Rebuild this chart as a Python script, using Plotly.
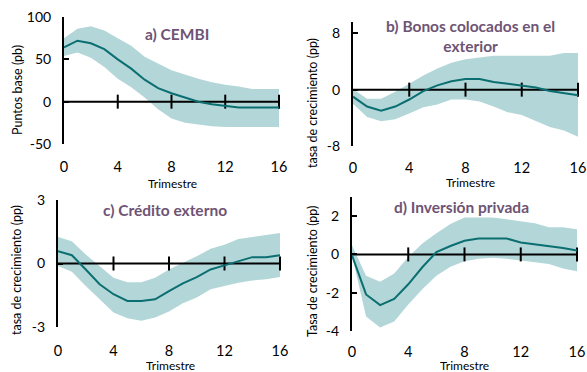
import plotly.graph_objects as go

W, H = 587, 372
trimestre = list(range(17))
x_ticks = [0, 4, 8, 12, 16]

# a) CEMBI
cembi_mid = [64, 72, 69, 62, 50, 39, 26, 16, 10, 5, 0, -3, -5, -7, -7, -7, -7]
cembi_up = [75, 86, 89, 84, 75, 66, 53, 45, 37, 32, 27, 23, 20, 18, 15, 15, 15]
cembi_lo = [54, 58, 52, 41, 27, 17, 5, -9, -20, -25, -27, -29, -30, -30, -30, -30, -30]

# b) Bonos colocados en el exterior
bonos_mid = [-1.0, -2.4, -3.0, -2.4, -1.4, -0.2, 0.6, 1.2, 1.5, 1.5, 1.1, 0.85, 0.6, 0.3, -0.2, -0.5, -0.8]
bonos_up = [0.1, -1.3, -1.3, -0.3, 0.85, 2.0, 3.0, 3.8, 4.3, 4.6, 4.8, 4.8, 4.8, 4.8, 4.8, 5.2, 5.2]
bonos_lo = [-2.0, -3.9, -4.5, -4.2, -3.4, -2.5, -2.1, -1.4, -1.4, -1.7, -2.4, -3.2, -3.6, -4.4, -5.3, -5.8, -6.7]

# c) Crédito externo
cred_mid = [0.58, 0.39, -0.28, -0.98, -1.45, -1.77, -1.77, -1.69, -1.3, -0.94, -0.64, -0.28, -0.09, 0.11, 0.3, 0.3, 0.39]
cred_up = [1.25, 1.05, 0.42, -0.12, -0.67, -0.88, -0.88, -0.67, -0.28, 0.03, 0.34, 0.7, 0.89, 1.16, 1.25, 1.36, 1.44]
cred_lo = [-0.12, -0.39, -1.06, -1.69, -2.31, -2.59, -2.7, -2.55, -2.27, -1.88, -1.61, -1.22, -1.06, -0.91, -0.8, -0.75, -0.64]

# d) Inversión privada
inv_mid = [-0.05, -2.09, -2.65, -2.32, -1.56, -0.67, 0.12, 0.44, 0.71, 0.83, 0.83, 0.83, 0.62, 0.53, 0.44, 0.34, 0.21]
inv_up = [0.48, -1.12, -1.43, -0.99, -0.14, 0.57, 1.1, 1.59, 1.93, 1.93, 1.93, 1.84, 1.75, 1.63, 1.42, 1.42, 1.31]
inv_lo = [-0.05, -3.24, -3.82, -3.5, -2.62, -1.82, -1.12, -0.64, -0.35, -0.23, -0.18, -0.23, -0.32, -0.41, -0.5, -0.73, -0.88]

LINE = "#0B6E70"
BAND = "#B3D7D9"
TITLE = "#6E5474"
FONT = "Lato"

panels = [
    dict(mid=cembi_mid, up=cembi_up, lo=cembi_lo, yr=[-50, 100], yt=[-50, 0, 50, 100],
         ytxt=["-50", "0", "50", "100"],
         px=(64, 279), py=(17, 144), xlab_y=166, title="a) CEMBI", tpos=(177, 34),
         ytitle="Puntos base (pb)", ytpos=(17, 90), xtpos=(172, 183)),
    dict(mid=bonos_mid, up=bonos_up, lo=bonos_lo, yr=[-8, 9.6], yt=[-8, 0, 8],
         ytxt=["-8", "0", "8"],
         px=(353, 578), py=(22, 146), xlab_y=167, title="b) Bonos colocados en el<br>exterior",
         tpos=(470, 36), ytitle="tasa de crecimiento (pp)", ytpos=(313, 103), xtpos=(470, 182)),
    dict(mid=cred_mid, up=cred_up, lo=cred_lo, yr=[-3, 3], yt=[-3, 0, 3],
         ytxt=["-3", "0", "3"],
         px=(58, 280), py=(200, 327), xlab_y=350, title="c) Crédito externo", tpos=(165, 210),
         ytitle="tasa de crecimiento (pp)", ytpos=(16, 270), xtpos=(170, 365)),
    dict(mid=inv_mid, up=inv_up, lo=inv_lo, yr=[-4, 3], yt=[-4, -2, 0, 2],
         ytxt=["-4", "-2", "0", "2"],
         px=(352, 577), py=(197, 331), xlab_y=351, title="d) Inversión privada", tpos=(461, 207),
         ytitle="Tasa de crecimiento (pp)", ytpos=(312, 272), xtpos=(465, 365)),
]

fig = go.Figure()
annotations = []
layout = {}
for i, p in enumerate(panels):
    n = "" if i == 0 else str(i + 1)
    xa, ya = "x" + n, "y" + n
    # band
    fig.add_trace(go.Scatter(x=trimestre, y=p["up"], mode="lines", line=dict(width=0, color=BAND),
                             xaxis=xa, yaxis=ya, showlegend=False, hoverinfo="skip"))
    fig.add_trace(go.Scatter(x=trimestre, y=p["lo"], mode="lines", line=dict(width=0, color=BAND),
                             fill="tonexty", fillcolor=BAND, xaxis=xa, yaxis=ya, showlegend=False,
                             hoverinfo="skip"))
    # horizontal axis at zero with tick marks
    fig.add_trace(go.Scatter(x=[x_ticks[0], x_ticks[-1]], y=[0, 0], mode="lines",
                             line=dict(width=2, color="black"), xaxis=xa, yaxis=ya,
                             showlegend=False, hoverinfo="skip", cliponaxis=False))
    fig.add_trace(go.Scatter(x=x_ticks[1:], y=[0] * 4, mode="markers",
                             marker=dict(symbol="line-ns", size=10, line=dict(width=2, color="black")),
                             xaxis=xa, yaxis=ya, showlegend=False, hoverinfo="skip", cliponaxis=False))
    # central line
    fig.add_trace(go.Scatter(x=trimestre, y=p["mid"], mode="lines", line=dict(width=2, color=LINE),
                             xaxis=xa, yaxis=ya, showlegend=False))
    x0, x1 = p["px"]
    y0, y1 = p["py"]
    ydom = [(H - y1) / H, (H - y0) / H]
    layout["xaxis" + n] = dict(
        domain=[x0 / W, x1 / W], range=[0, 16], tickvals=x_ticks, showgrid=False,
        zeroline=False, showline=False, ticks="", anchor="free", automargin=False,
        position=(H - (p["xlab_y"] - 10)) / H,
        tickfont=dict(family=FONT, size=14.5, color="black"), fixedrange=True)
    layout["yaxis" + n] = dict(
        domain=ydom, range=p["yr"], tickvals=p["yt"], ticktext=p["ytxt"], showgrid=False,
        zeroline=False, layer="above traces", automargin=False,
        showline=True, linecolor="black", linewidth=2, ticks="inside", ticklen=5, tickwidth=2,
        tickcolor="black", anchor=xa, ticklabelstandoff=8,
        tickfont=dict(family=FONT, size=14, color="black"), fixedrange=True)
    annotations.append(dict(text="<b>" + p["title"] + "</b>", x=p["tpos"][0] / W, y=(H - p["tpos"][1]) / H,
                            xref="paper", yref="paper", showarrow=False, xanchor="center", yanchor="middle",
                            font=dict(family=FONT, size=15.5, color=TITLE)))
    annotations.append(dict(text=p["ytitle"], x=p["ytpos"][0] / W, y=(H - p["ytpos"][1]) / H,
                            xref="paper", yref="paper", showarrow=False, textangle=-90,
                            xanchor="center", yanchor="middle",
                            font=dict(family=FONT, size=12.5, color="black")))
    annotations.append(dict(text="Trimestre", x=p["xtpos"][0] / W, y=(H - p["xtpos"][1]) / H,
                            xref="paper", yref="paper", showarrow=False, xanchor="center",
                            yanchor="middle", font=dict(family=FONT, size=12, color="black")))

fig.update_layout(width=W, height=H, margin=dict(l=0, r=0, t=0, b=0, autoexpand=False),
                  plot_bgcolor="white", paper_bgcolor="white", annotations=annotations,
                  showlegend=False, **layout)
fig.write_html("out.html", config={"displayModeBar": False},
               post_script="document.body.style.margin='0';document.body.style.overflow='hidden';")
